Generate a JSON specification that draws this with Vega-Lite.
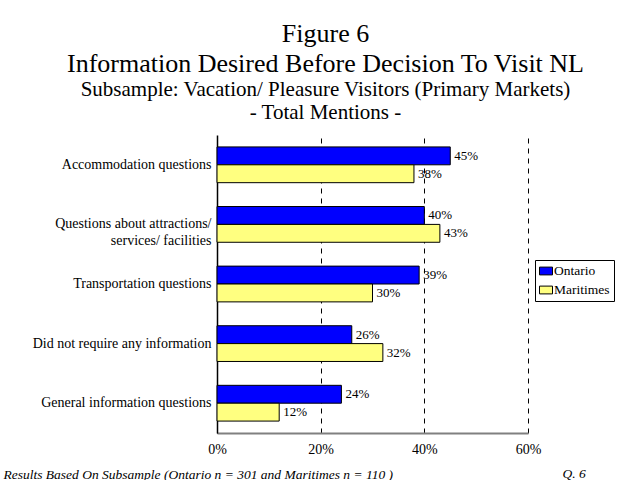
{
  "$schema": "https://vega.github.io/schema/vega-lite/v6.json",
  "autosize": "none",
  "padding": {"left": 217, "top": 135, "right": 106, "bottom": 47},
  "width": 311,
  "height": 298,
  "background": "white",
  "config": {
    "font": "Liberation Serif",
    "view": {"stroke": null},
    "axis": {"labelFont": "Liberation Serif", "titleFont": "Liberation Serif"},
    "legend": {"labelFont": "Liberation Serif"},
    "text": {"font": "Liberation Serif"}
  },
  "title": {
    "text": ["Figure 6", "Information Desired Before Decision To Visit NL"],
    "subtitle": ["Subsample: Vacation/ Pleasure Visitors (Primary Markets)", "- Total Mentions -"],
    "fontSize": 26,
    "fontWeight": "normal",
    "lineHeight": 30,
    "subtitleFontSize": 21,
    "subtitleLineHeight": 23,
    "subtitlePadding": 2,
    "color": "black",
    "subtitleColor": "black",
    "font": "Liberation Serif",
    "subtitleFont": "Liberation Serif",
    "anchor": "middle",
    "frame": "group",
    "dx": -47,
    "offset": 12
  },
  "data": {
    "values": [
      {"category": "Accommodation questions", "series": "Ontario", "value": 0.45},
      {"category": "Accommodation questions", "series": "Maritimes", "value": 0.38},
      {"category": "Questions about attractions/ services/ facilities", "series": "Ontario", "value": 0.40},
      {"category": "Questions about attractions/ services/ facilities", "series": "Maritimes", "value": 0.43},
      {"category": "Transportation questions", "series": "Ontario", "value": 0.39},
      {"category": "Transportation questions", "series": "Maritimes", "value": 0.30},
      {"category": "Did not require any information", "series": "Ontario", "value": 0.26},
      {"category": "Did not require any information", "series": "Maritimes", "value": 0.32},
      {"category": "General information questions", "series": "Ontario", "value": 0.24},
      {"category": "General information questions", "series": "Maritimes", "value": 0.12}
    ]
  },
  "encoding": {
    "y": {
      "field": "category",
      "type": "nominal",
      "sort": null,
      "scale": {"paddingInner": 0.4, "paddingOuter": 0.2},
      "axis": {
        "title": "Results Based On Subsample (Ontario n = 301 and Maritimes n = 110 )",
        "titleAngle": 0,
        "titleX": -214,
        "titleY": 343,
        "titleAlign": "left",
        "titleBaseline": "alphabetic",
        "titleFontStyle": "italic",
        "titleFontWeight": "normal",
        "titleFontSize": 13.5,
        "titleColor": "black",
        "titleFont": "Liberation Serif",
        "ticks": false,
        "labelPadding": 6,
        "labelFontSize": 14,
        "labelLineHeight": 17,
        "labelColor": "black",
        "labelFont": "Liberation Serif",
        "labelLimit": 0,
        "labelExpr": "datum.label == 'Questions about attractions/ services/ facilities' ? ['Questions about attractions/', 'services/ facilities'] : datum.label",
        "domainColor": "black",
        "domainWidth": 1.5
      }
    },
    "yOffset": {
      "field": "series",
      "type": "nominal",
      "sort": ["Ontario", "Maritimes"]
    },
    "x": {
      "field": "value",
      "type": "quantitative",
      "scale": {"domain": [0, 0.6], "nice": false},
      "axis": {
        "values": [0, 0.2, 0.4, 0.6],
        "format": ".0%",
        "grid": true,
        "gridDash": [5, 5],
        "gridColor": "black",
        "gridWidth": 1,
        "ticks": false,
        "labelFlush": false,
        "labelPadding": 9,
        "labelFontSize": 14,
        "labelColor": "black",
        "labelFont": "Liberation Serif",
        "domainColor": "#808080",
        "domainWidth": 2,
        "title": "Q. 6",
        "titleX": 345,
        "titleY": 44,
        "titleAlign": "left",
        "titleBaseline": "alphabetic",
        "titleFontStyle": "italic",
        "titleFontWeight": "normal",
        "titleFontSize": 13.5,
        "titleColor": "black",
        "titleFont": "Liberation Serif"
      }
    }
  },
  "layer": [
    {
      "mark": {"type": "bar", "stroke": "black", "strokeWidth": 1},
      "encoding": {
        "fill": {
          "field": "series",
          "type": "nominal",
          "sort": ["Ontario", "Maritimes"],
          "scale": {"domain": ["Ontario", "Maritimes"], "range": ["#0000FF", "#FFFF80"]},
          "legend": {
            "title": null,
            "orient": "none",
            "legendX": 318,
            "legendY": 125,
            "strokeColor": "black",
            "fillColor": "white",
            "padding": 4,
            "labelFontSize": 13.5,
            "labelColor": "black",
            "labelFont": "Liberation Serif",
            "labelOffset": 1,
            "rowPadding": 5,
            "symbolType": "M-1,-0.6H1V0.6H-1Z",
            "symbolSize": 169,
            "symbolStrokeColor": "black",
            "symbolStrokeWidth": 1,
            "symbolOpacity": 1
          }
        }
      }
    },
    {
      "mark": {"type": "text", "align": "left", "baseline": "middle", "dx": 4, "fontSize": 13, "color": "black", "font": "Liberation Serif"},
      "encoding": {
        "text": {"field": "value", "type": "quantitative", "format": ".0%"}
      }
    }
  ]
}
